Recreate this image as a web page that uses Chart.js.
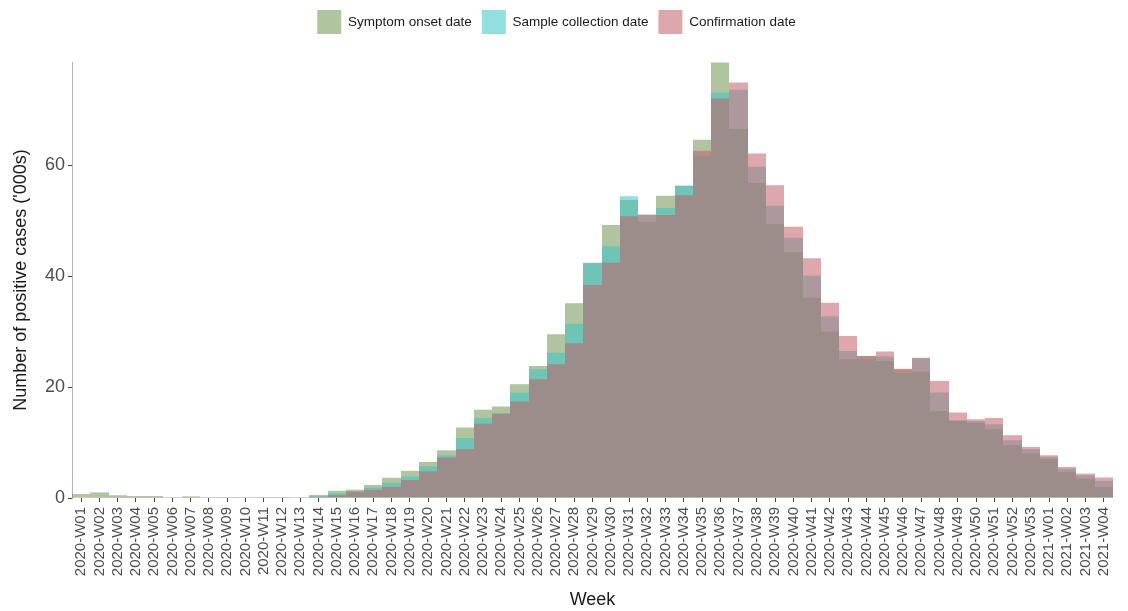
<!DOCTYPE html>
<html>
<head>
<meta charset="utf-8">
<script src="https://cdn.jsdelivr.net/npm/chart.js@4"></script>
<style>
  html, body { margin: 0; padding: 0; background: #fff; }
  #wrap { width: 1128px; height: 611px; }
</style>
</head>
<body>
<div id="wrap"><canvas id="casesChart" width="1128" height="611"></canvas></div>
<script>
// weekly positive cases, in thousands, by the date used to count them
const weeks = [
  '2020-W01', '2020-W02', '2020-W03', '2020-W04', '2020-W05', '2020-W06', '2020-W07', '2020-W08',
  '2020-W09', '2020-W10', '2020-W11', '2020-W12', '2020-W13', '2020-W14', '2020-W15', '2020-W16',
  '2020-W17', '2020-W18', '2020-W19', '2020-W20', '2020-W21', '2020-W22', '2020-W23', '2020-W24',
  '2020-W25', '2020-W26', '2020-W27', '2020-W28', '2020-W29', '2020-W30', '2020-W31', '2020-W32',
  '2020-W33', '2020-W34', '2020-W35', '2020-W36', '2020-W37', '2020-W38', '2020-W39', '2020-W40',
  '2020-W41', '2020-W42', '2020-W43', '2020-W44', '2020-W45', '2020-W46', '2020-W47', '2020-W48',
  '2020-W49', '2020-W50', '2020-W51', '2020-W52', '2020-W53', '2021-W01', '2021-W02', '2021-W03',
  '2021-W04'
];

const symptomOnset = [
  0.7, 1.0, 0.5, 0.35, 0.35, 0.1, 0.3, 0.1,
  0.05, 0.1, 0.15, 0.05, 0.05, 0.55, 1.3, 1.5,
  2.35, 3.65, 4.9, 6.5, 8.6, 12.7, 15.9, 16.5,
  20.5, 23.8, 29.5, 35.1, 42.4, 49.2, 53.7, 49.8,
  54.5, 56.3, 64.6, 78.5, 66.5, 56.8, 49.4, 44.3,
  36.1, 30.0, 25.0, 25.6, 24.7, 23.2, 22.8, 15.7,
  13.9, 13.5, 12.4, 9.5, 8.0, 7.0, 4.7, 3.5,
  2.0
];

const sampleCollection = [
  0.1, 0.15, 0.05, 0.05, 0.05, 0.02, 0.05, 0.02,
  0.02, 0.02, 0.05, 0.02, 0.05, 0.3, 0.85, 1.2,
  1.85, 2.75, 3.85, 5.7, 7.7, 10.8, 14.4, 15.3,
  19.0, 23.2, 26.2, 31.4, 42.3, 45.4, 54.4, 51.0,
  52.3, 56.3, 61.7, 73.1, 73.6, 59.7, 52.7, 46.9,
  40.1, 32.7, 26.5, 25.0, 25.5, 22.5, 25.2, 19.0,
  14.0, 13.9, 13.3, 10.4, 8.8, 7.4, 5.3, 4.1,
  3.1
];

const confirmation = [
  0.05, 0.05, 0.02, 0.02, 0.02, 0.02, 0.02, 0.02,
  0.02, 0.02, 0.02, 0.02, 0.05, 0.2, 0.5, 1.15,
  1.45, 2.0, 3.25, 4.8, 7.3, 8.8, 13.4, 15.2,
  17.4, 21.4, 24.1, 27.9, 38.4, 42.4, 50.8, 51.1,
  51.0, 54.6, 62.6, 72.0, 74.9, 62.1, 56.4, 48.9,
  43.2, 35.2, 29.2, 25.6, 26.4, 23.3, 25.3, 21.1,
  15.4, 14.2, 14.4, 11.3, 9.2, 7.7, 5.6, 4.4,
  3.7
];

const yTicks = [0, 20, 40, 60];

Chart.defaults.font.family = "'Liberation Sans', Arial, sans-serif";

// legend keeps a fixed band above the plot
const legendBand = {
  id: 'legendBand',
  beforeInit(chart) {
    const fit = chart.legend.fit;
    chart.legend.fit = function () {
      fit.call(this);
      this.height = 62;
    };
  }
};

// snap bar edges to whole pixels so neighbouring translucent bars don't leave seams
const snapBars = {
  id: 'snapBars',
  afterDatasetsUpdate(chart) {
    chart.getSortedVisibleDatasetMetas().forEach(meta => {
      meta.data.forEach(bar => {
        const left = Math.round(bar.x - bar.width / 2);
        const right = Math.round(bar.x + bar.width / 2);
        bar.x = (left + right) / 2;
        bar.width = right - left;
      });
    });
  }
};

function barSet(label, data, color, order) {
  return {
    label,
    data,
    backgroundColor: color,
    borderWidth: 0,
    inflateAmount: 0,
    order,
    grouped: false,
    categoryPercentage: 1,
    barPercentage: 1
  };
}

const ctx = document.getElementById('casesChart').getContext('2d');
const casesChart = new Chart(ctx, {
  type: 'bar',
  data: {
    labels: weeks,
    datasets: [
      barSet('Symptom onset date', symptomOnset, 'rgba(111, 148, 82, 0.55)', 2),
      barSet('Sample collection date', sampleCollection, 'rgba(59, 197, 199, 0.55)', 1),
      barSet('Confirmation date', confirmation, 'rgba(193, 95, 102, 0.55)', 0)
    ]
  },
  plugins: [legendBand, snapBars],
  options: {
    responsive: false,
    animation: false,
    layout: { padding: { left: 0, right: 15, top: 0, bottom: 0 } },
    plugins: {
      tooltip: { enabled: false },
      legend: {
        position: 'top',
        align: 'center',
        labels: {
          boxWidth: 24,
          boxHeight: 24,
          padding: 10,
          color: '#1a1a1a',
          font: { size: 13.5 },
          sort: (a, b) => a.datasetIndex - b.datasetIndex
        }
      }
    },
    scales: {
      x: {
        offset: true,
        afterFit(scale) { scale.height = 113; },
        border: { display: false },
        grid: { display: true, offset: false, drawOnChartArea: false, drawTicks: true, tickLength: 4, tickColor: '#444' },
        ticks: { autoSkip: false, minRotation: 90, maxRotation: 90, color: '#4d4d4d', font: { size: 15 }, padding: 5 },
        title: { display: true, text: 'Week', color: '#1a1a1a', font: { size: 18 }, padding: { top: 0, bottom: 0 } }
      },
      y: {
        min: 0,
        max: 78.6,
        afterFit(scale) { scale.width = 72; },
        afterBuildTicks(scale) { scale.ticks = yTicks.map(v => ({ value: v })); },
        border: { display: true, color: '#b3b3b3', width: 1 },
        grid: { display: true, drawOnChartArea: false, drawTicks: true, tickLength: 4, tickColor: '#444' },
        ticks: { color: '#4d4d4d', font: { size: 18 }, padding: 3 },
        title: { display: true, text: "Number of positive cases ('000s)", color: '#1a1a1a', font: { size: 18 }, padding: { top: 10, bottom: 0 } }
      }
    }
  }
});
</script>
</body>
</html>
